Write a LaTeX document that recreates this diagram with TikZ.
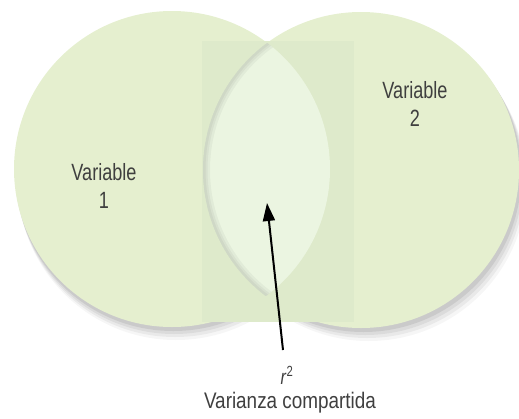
\documentclass[tikz,border=0pt]{standalone}
\usepackage{fontspec}
\newfontfamily\condfont[FakeStretch=0.77]{Liberation Sans}
\newfontfamily\condwide[FakeStretch=0.84]{Liberation Sans}
\usetikzlibrary{arrows.meta}

\definecolor{circlegreen}{HTML}{E5EFCF}
\definecolor{bandgreen}{HTML}{DEEACB}
\definecolor{lensgreen}{HTML}{EBF5E1}
\definecolor{labelgray}{HTML}{3F3F3F}

\begin{document}
\begin{tikzpicture}[
    x=1pt, y=-1pt,
    lbl/.style={
      text=labelgray, align=center, inner sep=0pt,
      font=\condfont\fontsize{23.5}{28}\selectfont
    },
    arr/.style={-{Triangle[length=18pt, width=12pt]}, line width=2pt}
  ]
    \useasboundingbox (0,0) rectangle (519,418);
    % soft shadows
    \foreach \s/\o in {13/0.035, 10/0.05, 7/0.06, 4/0.08} {
      \fill[black, opacity=\o] (172+\s*0.3,169+\s) circle (158pt);
      \fill[black, opacity=\o] (361+\s*0.6,170+\s) circle (158pt);
    }
    \fill[circlegreen] (172,169) circle (158pt);
    \fill[circlegreen] (361,170) circle (158pt);
    \fill[bandgreen] (202,41) rectangle (354,322);
    % shared part
    \begin{scope}
      \clip (172,169) circle (158pt);
      \clip (361,170) circle (158pt);
      \fill[lensgreen] (361,170) circle (158pt);
      \foreach \w in {14, 9, 5} {
        \draw[black, opacity=0.04, line width=\w pt] (361,170) circle (158pt);
      }
    \end{scope}
    \node[lbl] (var1) at (104,186) {Variable\\1};
    \node[lbl] (var2) at (415,104) {Variable\\2};
    \node[lbl, font=\condfont\fontsize{21}{24}\selectfont, text depth=0pt,
      anchor=base] (rsq) at (287,384) {\textit{r}\textsuperscript{2}};
    \node[lbl, font=\condwide\fontsize{22.5}{26}\selectfont, text height=16pt,
      anchor=base] (shared) at (290,408) {Varianza compartida};
    \coordinate (tail) at (283,350);
    \coordinate (tip) at (267,203);
    \draw[arr] (tail) -- (tip);
  \end{tikzpicture}
\end{document}
